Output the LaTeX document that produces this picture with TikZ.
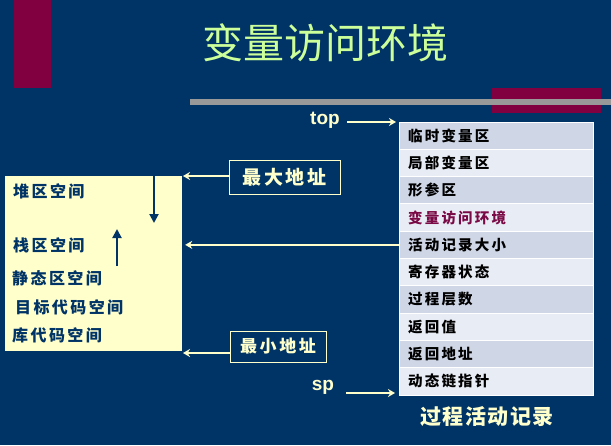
\documentclass[tikz,border=0pt]{standalone}
\usepackage{fontspec}
\setmainfont{Liberation Sans}
\newfontfamily\cjk{Noto Sans CJK SC}
\newfontfamily\cjkwide[LetterSpace=15]{Noto Sans CJK SC}
\newfontfamily\cjkcap[LetterSpace=7]{Noto Sans CJK SC}
\usetikzlibrary{arrows.meta}
\definecolor{bg}{HTML}{003366}
\definecolor{maroon}{HTML}{800040}
\definecolor{rule}{HTML}{999999}
\definecolor{cream}{HTML}{FFFFCC}
\definecolor{titlegreen}{HTML}{CCFF99}
\definecolor{rowA}{HTML}{CFD6E6}
\definecolor{rowB}{HTML}{E8ECF4}
\definecolor{hilite}{HTML}{7A0A45}
\tikzset{
  rowbox/.style={draw=white, line width=1pt, minimum width=194pt, minimum height=27.3pt, inner sep=0pt},
  rowtxt/.style={anchor=west, inner sep=0pt, font=\cjkwide\bfseries\fontsize{14.5}{16}\selectfont},
  memtxt/.style={anchor=west, inner sep=0pt, text=bg, font=\cjkwide\bfseries\fontsize{16}{18}\selectfont},
  addrbox/.style={draw=cream, line width=1pt, text=cream, inner sep=0pt, font=\cjkwide\bfseries\fontsize{19}{21}\selectfont},
  ptrlbl/.style={text=cream, inner sep=0pt, font=\fontsize{19}{21}\selectfont\bfseries},
  creamarrow/.style={draw=cream, line width=2.2pt, -{Stealth[length=7pt,width=8pt]}},
  bluearrow/.style={draw=bg, line width=2pt, -{Triangle[length=9pt,width=9pt]}}
}
\begin{document}
\begin{tikzpicture}[x=1pt,y=-1pt]
\useasboundingbox (0,0) rectangle (611,445);
\fill[bg] (0,0) rectangle (611,445);

% decorative bars
\fill[maroon] (14,0) rectangle (51,88);
\fill[maroon] (492,88) rectangle (601,113);
\fill[rule] (190,99) rectangle (611,104.5);

% title
\node[text=titlegreen, inner sep=0pt, font=\cjk\fontsize{41}{45}\selectfont] (title) at (325,43) {变量访问环境};

% activation record table
\foreach \t/\c/\tc [count=\i] in {临时变量区/rowA/black, 局部变量区/rowB/black, 形参区/rowA/black, 变量访问环境/rowB/hilite, 活动记录大小/rowA/black, 寄存器状态/rowB/black, 过程层数/rowA/black, 返回值/rowB/black, 返回地址/rowA/black, 动态链指针/rowB/black} {
  \node[rowbox, fill=\c] (r\i) at (496,122+27.3*\i-13.65) {};
  \node[rowtxt, text=\tc] (t\i) at (408,122+27.3*\i-13.65) {\t};
}
\node[text=cream, inner sep=0pt, font=\cjkcap\bfseries\fontsize{21}{23}\selectfont] (caption) at (487,417) {过程活动记录};

% stack pointers
\node[ptrlbl] (toplbl) at (325,120) {top};
\node[ptrlbl] (splbl) at (323,387) {sp};
\coordinate (topend) at (396,122);
\coordinate (spend) at (395,393);
\draw[creamarrow, line width=1.6pt] (347,122) -- (topend);
\draw[creamarrow, line width=1.6pt] (346,393) -- (spend);

% memory layout
\node[fill=cream, inner sep=0pt, minimum width=177pt, minimum height=175pt] (mem) at (93.5,263.5) {};
\node[memtxt] (heap) at (13,191) {堆区空间};
\node[memtxt] (stack) at (13,245) {栈区空间};
\node[memtxt] (static) at (12,278) {静态区空间};
\node[memtxt] (code) at (15,307) {目标代码空间};
\node[memtxt] (lib) at (12,335) {库代码空间};
\coordinate (heaptop) at (154,176);
\coordinate (heapend) at (154,223);
\coordinate (stackbot) at (117,266);
\coordinate (stackend) at (117,229);
\draw[bluearrow] (heaptop) -- (heapend);
\draw[bluearrow] (stackbot) -- (stackend);

% address bounds
\node[addrbox, minimum width=111pt, minimum height=34pt] (maxaddr) at (284.5,177) {最大地址};
\node[addrbox, minimum width=96pt, minimum height=31pt, font=\cjkwide\bfseries\fontsize{17}{19}\selectfont] (minaddr) at (278,346.5) {最小地址};
\draw[creamarrow] (maxaddr.west |- 0,176) -- (183,176);
\draw[creamarrow] (minaddr.west |- 0,353) -- (183,353);
\draw[creamarrow] (r5.west) -- ([xshift=3pt]r5.west -| mem.east);
\end{tikzpicture}
\end{document}
